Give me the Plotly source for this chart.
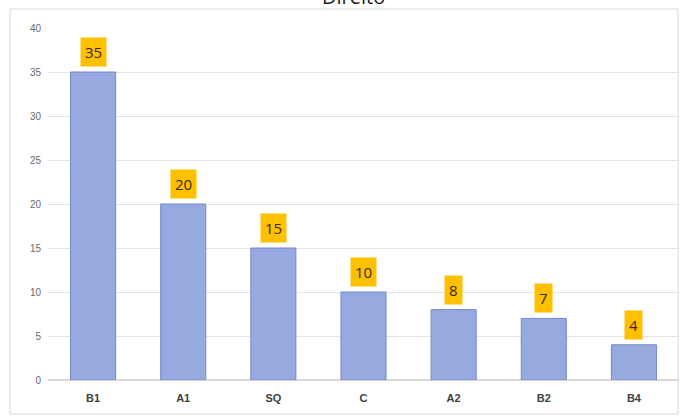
import plotly.graph_objects as go

categories = ["B1", "A1", "SQ", "C", "A2", "B2", "B4"]
values = [35, 20, 15, 10, 8, 7, 4]
y_ticks = [0, 5, 10, 15, 20, 25, 30, 35, 40]
title_text = "Direito"

W, H = 688, 416
ml, mr, mt, mb = 48, 9, 28, 36
pw, ph = W - ml - mr, H - mt - mb

def px_x(p):
    return (p - ml) / pw

def px_y(p):
    return (H - mb - p) / ph

fig = go.Figure()
fig.add_trace(go.Bar(
    x=categories, y=values,
    marker=dict(color="#96AAE0", line=dict(color="#7288CC", width=1)),
    hoverinfo="skip",
))

annotations = []
for c, v in zip(categories, values):
    annotations.append(dict(
        x=c, y=v, xref="x", yref="y", text=str(v), showarrow=False,
        yanchor="bottom", yshift=5, bgcolor="#FFC000", borderpad=4,
        font=dict(family="Open Sans", size=15, color="#3A2A10"),
    ))
annotations.append(dict(
    x=px_x(353), y=px_y(-3), xref="paper", yref="paper", text=title_text,
    showarrow=False, xanchor="center", yanchor="middle",
    font=dict(family="Open Sans", size=20, color="#1A1A1A"),
))

fig.update_layout(
    width=W, height=H,
    margin=dict(l=ml, r=mr, t=mt, b=mb),
    paper_bgcolor="white", plot_bgcolor="white",
    bargap=0.5, showlegend=False,
    annotations=annotations,
    shapes=[dict(
        type="rect", xref="paper", yref="paper", layer="below",
        x0=px_x(10), x1=px_x(678), y0=px_y(414), y1=px_y(9),
        line=dict(color="#D9D9D9", width=1), fillcolor="rgba(0,0,0,0)",
    )],
    xaxis=dict(
        showgrid=False, showline=False, ticks="",
        tickfont=dict(family="Liberation Sans", size=11, color="#404040", weight="bold"),
        ticklabelstandoff=10,
    ),
    yaxis=dict(
        range=[0, 40], tickvals=y_ticks, showgrid=True, gridcolor="#E3E3E3",
        zeroline=True, zerolinecolor="#D9D9D9", showline=False, ticks="",
        tickfont=dict(family="Liberation Sans", size=10, color="#6A6A6A"),
        ticklabelstandoff=6,
    ),
)

fig.write_html("out.html", config={"displayModeBar": False},
               post_script="document.body.style.margin='0';")
